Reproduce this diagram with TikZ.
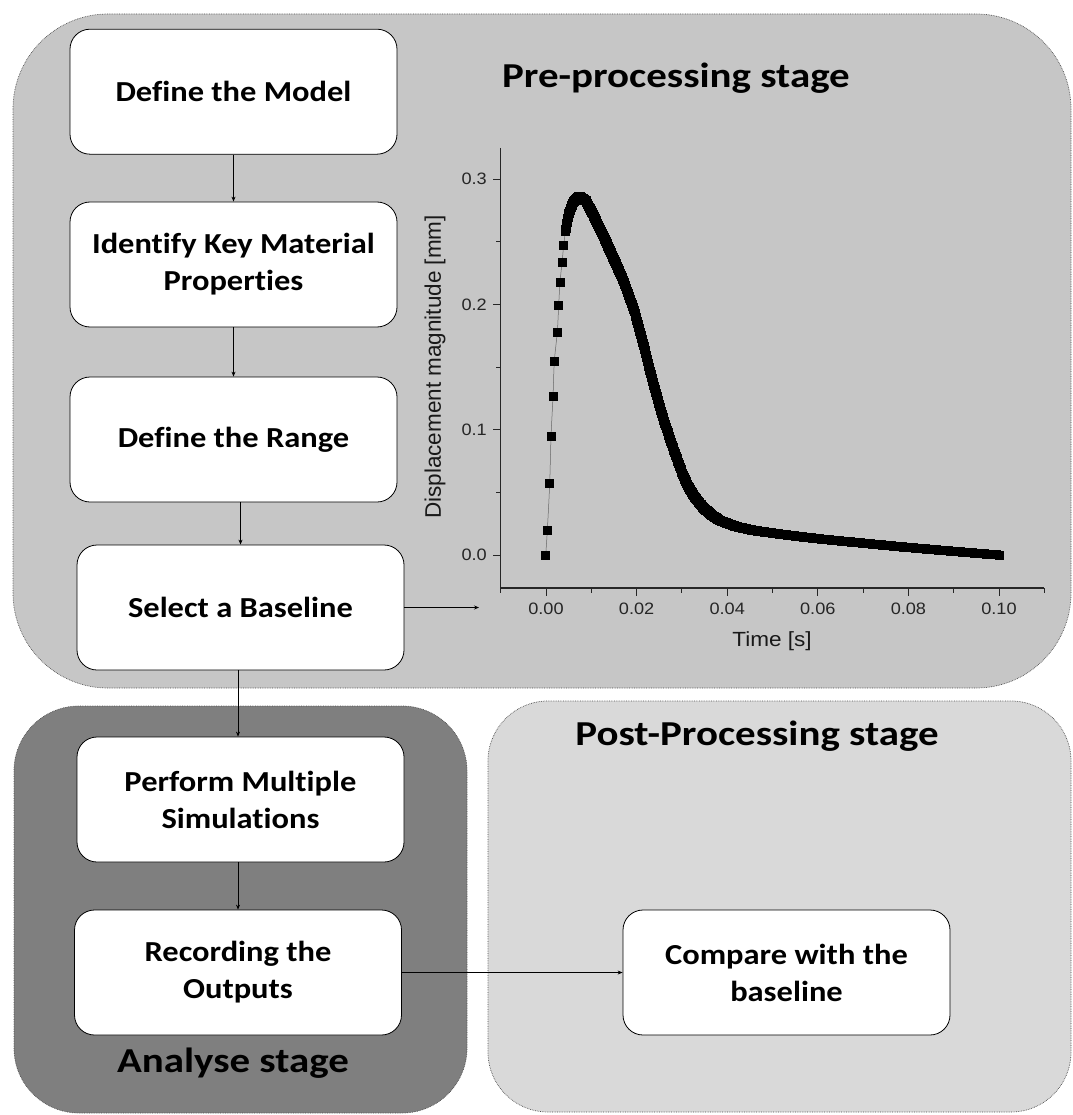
\documentclass[tikz,border=0pt]{standalone}
\usepackage{fontspec}
\usetikzlibrary{arrows.meta,calc}
\newfontfamily\boxfont[FakeStretch=1.12,Ligatures=NoCommon]{Carlito}
\newfontfamily\titlefont[FakeStretch=1.17,Ligatures=NoCommon]{Carlito}
\newfontfamily\plotfont[FakeStretch=1.1]{Liberation Sans}
\newfontfamily\plotfontn{Liberation Sans}
\definecolor{pregray}{RGB}{198,198,198}
\definecolor{anagray}{RGB}{127,127,127}
\definecolor{postgray}{RGB}{217,217,217}
\tikzset{
  container/.style={draw=black!70, densely dotted, line width=0.7pt},
  stepbox/.style={draw=black, line width=0.8pt, fill=white, rounded corners=20pt,
    minimum width=327pt, minimum height=125pt, align=center, inner sep=0pt,
    font=\boxfont\bfseries\fontsize{29}{37}\selectfont},
  stagetitle/.style={font=\titlefont\bfseries\fontsize{35}{42}\selectfont, anchor=base, inner sep=0pt},
  arr/.style={-{Stealth[length=5pt,width=4pt]}, line width=0.7pt, black},
  ticklbl/.style={font=\plotfont\fontsize{16.5}{18}\selectfont, inner sep=0pt, text=black!85},
  axlbl/.style={font=\plotfont\fontsize{20.5}{24}\selectfont, inner sep=0pt, text=black!90},
  sq/.style={fill=black}
}
\begin{document}
\begin{tikzpicture}[x=1pt,y=-1pt]
\useasboundingbox (0,0) rectangle (1072,1115);
% containers
\draw[container, fill=pregray, rounded corners=95pt] (13,14) rectangle (1071,688);
\draw[container, fill=anagray, rounded corners=65pt] (14,706) rectangle (467,1113);
\draw[container, fill=postgray, rounded corners=60pt] (488,701) rectangle (1071,1112);
% titles
\node[stagetitle] (tpre) at (676,88) {Pre-processing stage};
\node[stagetitle] (tpost) at (757,745) {Post-Processing stage};
\node[stagetitle] (tana) at (233,1072) {Analyse stage};
% step boxes
\node[stepbox] (b1) at (233.5,91.7) {Define the Model};
\node[stepbox] (b2) at (233.5,264.5) {Identify Key Material\\Properties};
\node[stepbox] (b3) at (233.5,439.5) {Define the Range};
\node[stepbox] (b4) at (240.5,607.5) {Select a Baseline};
\node[stepbox] (b5) at (240.5,799.5) {Perform Multiple\\Simulations};
\node[stepbox] (b6) at (238,972.5) {Recording the\\Outputs};
\node[stepbox] (b7) at (786.5,972.5) {Compare with the\\baseline};
% plot axes
\coordinate (plotin) at (479,607.5);
\draw[line width=1.5pt, black!85] (500.7,148) -- (500.7,588) -- (1044.3,588);
\foreach \yv/\lab in {555/0.0, 429.7/0.1, 304.4/0.2, 179.1/0.3} {
  \draw[line width=1pt, black!85] (500.7,\yv) -- (492.7,\yv);
  \node[ticklbl, anchor=east] at (487,\yv) {\lab};
}
\foreach \yv in {492.35,367.05,241.75} {
  \draw[line width=0.9pt, black!85] (500.7,\yv) -- (496.2,\yv);
}
\foreach \xv/\lab in {546/0.00, 636.6/0.02, 727.2/0.04, 817.8/0.06, 908.4/0.08, 999/0.10} {
  \draw[line width=1pt, black!85] (\xv,588) -- (\xv,595.5);
  \node[ticklbl] at (\xv,609) {\lab};
}
\foreach \xv in {500.7,591.3,681.9,772.5,863.1,953.7,1044.3} {
  \draw[line width=0.9pt, black!85] (\xv,588) -- (\xv,592.5);
}
\node[axlbl] (xlab) at (772,641) {Time [s]};
\node[axlbl, rotate=90, font=\plotfontn\fontsize{22.5}{24}\selectfont] (ylab) at (435,367) {Displacement magnitude [mm]};
% data
\draw[black!60, line width=0.5pt] plot[smooth] coordinates {(545.7,555) (547.3,530.7) (549.7,483.3) (551,436.7) (553,396.7) (554.3,361.7) (557.3,332) (558.7,305) (560,282.3) (562,262.7) (563.7,245.3) (565.3,231.7)};
\foreach \px/\py in {545.7/555, 547.3/530.7, 549.7/483.3, 551/436.7, 553/396.7, 554.3/361.7, 557.3/332, 558.7/305, 560/282.3, 562/262.7, 563.7/245.3} {
  \fill[sq] (\px-4.5,\py-4.5) rectangle (\px+4.5,\py+4.5);
}
\foreach \xa/\ya/\xb/\yb in {565.5/231.7/568.7/214.2, 568.7/214.2/573.2/202, 573.2/202/579.5/196.5, 579.5/196.5/586/201, 586/201/592.4/213.3, 592.4/213.3/600.5/230, 600.5/230/608.3/246.7, 608.3/246.7/615.8/263.3, 615.8/263.3/623.3/280, 623.3/280/635/313.3, 635/313.3/644/346.7, 644/346.7/652.4/380, 652.4/380/661.7/413.3, 661.7/413.3/672.6/446.7, 672.6/446.7/682.3/473.3, 682.3/473.3/688.5/487, 688.5/487/694.6/497, 694.6/497/703.2/507.5, 703.2/507.5/711.5/515, 711.5/515/720/520.5, 720/520.5/736.3/526.5, 736.3/526.5/754/530.5, 754/530.5/772.5/533.1, 772.5/533.1/796/536.2, 796/536.2/821/539, 821/539/862/543, 862/543/903.9/547, 903.9/547/950/551, 950/551/999/555} {
  \foreach \k in {0,...,24} {
    \fill[sq] ($(\xa,\ya)!\k/24!(\xb,\yb)$) ++(-4.5,-4.5) rectangle ++(9,9);
  }
}
\fill[sq] (994.5,550.5) rectangle (1003.5,559.5);
% connectors
\draw[arr] (b1.south) -- (b2.north);
\draw[arr] (b2.south) -- (b3.north);
\draw[arr] (b4.north |- b3.south) -- (b4.north);
\draw[arr] (b6.north |- b4.south) -- (b6.north |- b5.north);
\draw[arr] (b6.north |- b5.south) -- (b6.north);
\draw[arr] (b4.east) -- (plotin);
\draw[arr] (b6.east) -- (b7.west);
\end{tikzpicture}
\end{document}
